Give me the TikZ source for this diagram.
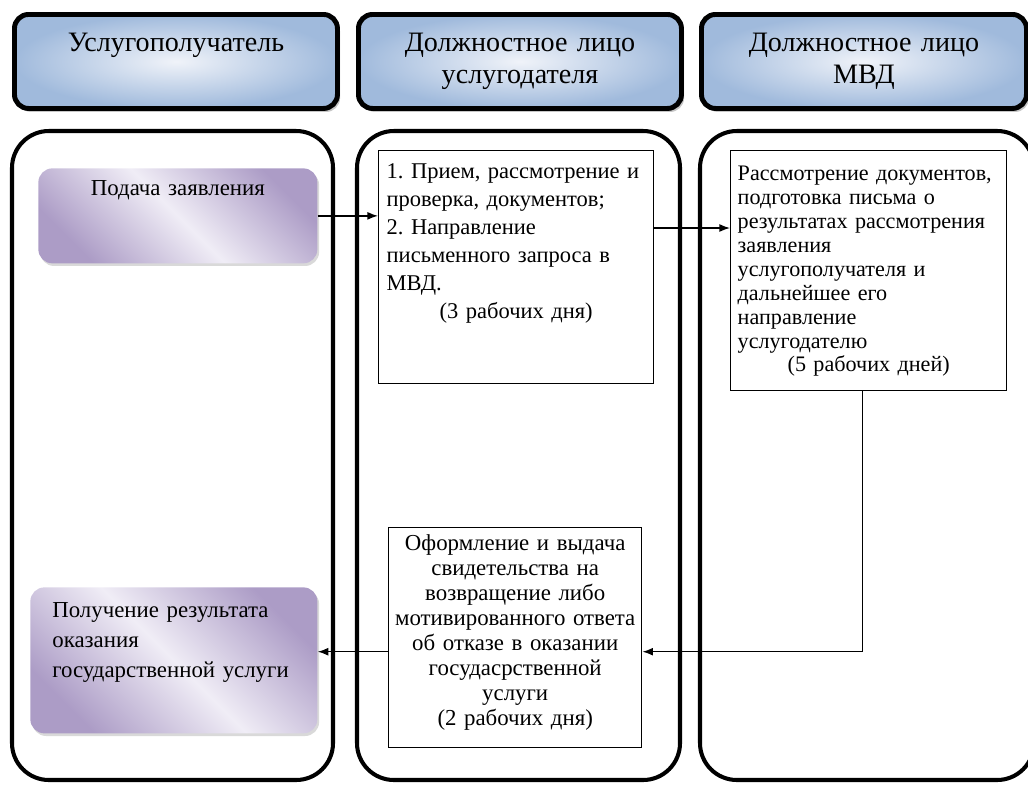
\documentclass[tikz,border=0pt]{standalone}
\usepackage{fontspec}
\setmainfont{Liberation Serif}
\usetikzlibrary{arrows.meta, positioning, shadows}

\definecolor{hdrblue}{RGB}{160, 186, 220}
\definecolor{hdrlight}{RGB}{240, 243, 249}
\definecolor{lilacdark}{RGB}{172, 156, 198}
\definecolor{lilaclight}{RGB}{240, 237, 246}

\tikzset{
  lane/.style={line width=2.3pt, rounded corners=21pt},
  header/.style={draw, line width=2.8pt, rounded corners=8pt, inner color=hdrlight, outer color=hdrblue,
    drop shadow={shadow xshift=1.5pt, shadow yshift=-2pt, opacity=0.45}, anchor=north west, align=center,
    inner ysep=0pt, inner xsep=0.2cm, text width=6.06cm, text height=0.74cm, text depth=1.14cm,
    font=\fontsize{16}{18.1}\selectfont},
  stepbox/.style={draw, line width=0.8pt, anchor=north west, inner ysep=0pt, fill=white},
  lilac/.style={rounded corners=8pt, left color=lilacdark, right color=lilacdark, middle color=lilaclight,
    shading angle=135, drop shadow={shadow xshift=1pt, shadow yshift=-1.5pt, opacity=0.3},
    anchor=north west, inner ysep=0pt},
  arr/.style={line width=0.8pt, -{Latex[length=6pt, width=4.5pt]}},
}

\begin{document}
\begin{tikzpicture}
  \useasboundingbox (0, 0) rectangle (20.56, -15.70);

  % Headers
  \node[header] (hrecv) at (0.24, -0.24) {Услугополучатель};
  \node[header] (hprov) at (7.12, -0.24) {Должностное лицо\\услугодателя};
  \node[header, text width=6.10cm] (hmvd) at (13.98, -0.24) {Должностное лицо\\МВД};

  % Lanes
  \draw[lane] (0.24, -2.62) rectangle (6.66, -15.60);
  \draw[lane] (7.14, -2.62) rectangle (13.60, -15.60);
  \draw[lane] (14.00, -2.62) rectangle (20.68, -15.60);

  % Steps
  \node[lilac, inner xsep=0.2cm, text width=5.18cm, align=center, text height=0.54cm, text depth=1.36cm,
    font=\fontsize{13}{15.9}\selectfont] (apply) at (0.76, -3.36) {Подача заявления};
  \node[stepbox, inner xsep=0.16cm, text width=5.18cm, align=left, text height=0.56cm, text depth=4.10cm,
    font=\fontsize{12.8}{15.9}\selectfont] (check) at (7.56, -3.00) {
    1.\ Прием, рассмотрение и\\
    проверка, документов;\\
    2.\ Направление\\
    письменного запроса в\\
    МВД.\\
    \makebox[\linewidth]{(3 рабочих дня)}
  };
  \node[stepbox, inner xsep=0.14cm, text width=5.24cm, align=left, text height=0.60cm, text depth=4.20cm,
    font=\fontsize{12.6}{13.6}\selectfont] (review) at (14.60, -3.00) {
    Рассмотрение документов,\\
    подготовка письма о\\
    результатах рассмотрения\\
    заявления\\
    услугополучателя и\\
    дальнейшее его\\
    направление\\
    услугодателю\\
    \makebox[\linewidth]{(5 рабочих дней)}
  };
  \node[stepbox, inner xsep=0.1cm, text width=4.86cm, align=center, text height=0.46cm, text depth=3.94cm,
    font=\fontsize{13}{14.2}\selectfont] (issue) at (7.76, -10.54) {
    Оформление и выдача\\
    свидетельства на\\
    возвращение либо\\
    мотивированного ответа\\
    об отказе в оказании\\
    госудасрственной\\
    услуги\\
    (2 рабочих дня)
  };
  \node[lilac, inner xsep=0.44cm, text width=4.86cm, align=left, text height=0.60cm, text depth=2.32cm,
    font=\fontsize{13}{17}\selectfont] (result) at (0.60, -11.74) {
    Получение результата\\
    оказания\\
    государственной услуги
  };

  % Connectors
  \coordinate (inback) at ([yshift=-0.28cm]issue.east);
  \coordinate (outback) at ([yshift=-0.28cm]issue.west);
  \draw[arr] (apply.east) -- (apply.east -| check.west);
  \draw[arr] ([yshift=-1.56cm]check.north east) -- ([yshift=-1.56cm]review.north west);
  \draw[arr] ([xshift=-0.12cm]review.south) |- (inback);
  \draw[arr] (outback) -- (outback -| result.east);
\end{tikzpicture}
\end{document}
